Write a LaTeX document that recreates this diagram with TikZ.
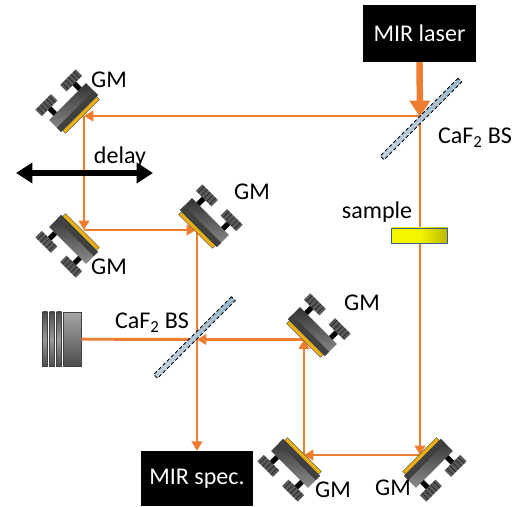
\documentclass[tikz,border=0pt]{standalone}
\usepackage{fontspec}
\setmainfont{Carlito}
\usepackage{xcolor}
\usetikzlibrary{arrows.meta}
\definecolor{beamorange}{HTML}{ED7D31}
\definecolor{mirrorgold}{HTML}{E8B010}
\definecolor{bsblue}{HTML}{9DB8CC}
\definecolor{samplelight}{HTML}{F5F500}
\definecolor{sampledark}{HTML}{B8B800}
\definecolor{sampleedge}{HTML}{3A5F8A}

\begin{document}
\begin{tikzpicture}[
    x=0.03cm, y=0.03cm,
    box/.style={fill=black, text=white, minimum width=3.39cm, minimum height=1.71cm, inner sep=0pt, font=\fontsize{20.5}{23}\selectfont},
    tag/.style={inner sep=0pt, font=\fontsize{20.5}{23}\selectfont},
    splitter/.style={draw=black, densely dashed, line width=0.7pt, minimum width=3.3cm, minimum height=0.16cm, inner sep=0pt, rotate=45, top color=bsblue, bottom color=bsblue!60!white},
    beam/.style={draw=beamorange, line width=2.5pt},
    arrow/.style={beam, -{Triangle[length=8pt,width=9pt]}},
    pump/.style={draw=beamorange, line width=5.5pt, -{Triangle[length=14pt,width=17pt]}},
    travel/.style={draw=black, line width=4.5pt, {Triangle[length=14pt,width=17pt]}-{Triangle[length=14pt,width=17pt]}},
    band/.style={draw=black!75, line width=0.5pt, top color=black!70, bottom color=black!70, middle color=black!40},
    pics/galvo/.style={code={
        \fill[mirrorgold, draw=black!70, line width=0.3pt] (-24,-2) rectangle (24,2);
        \shade[top color=black!80, bottom color=black!45] (-26,-19) rectangle (26,-2);
        \fill[black!75] (-26,-8) rectangle (26,-2);
        \foreach \k in {-17.5,17.5} {
            \fill[black] (\k-2.5,-28) rectangle (\k+2.5,-19);
            \fill[black!65] (\k-11,-36) rectangle (\k+11,-27);
            \foreach \r in {-8,-4,0,4,8}
                \draw[black!85, line width=0.6pt] (\k+\r,-36) -- (\k+\r,-27);
        }
    }}
]
    \useasboundingbox (0,0) rectangle (517,506);

    \node[box] (laser) at (419.5,472.5) {MIR laser};
    \node[box, minimum width=3.36cm, minimum height=1.65cm] (spec) at (197,27.5) {MIR spec.};

    \coordinate (bsa) at (420,390);
    \coordinate (pa) at (84,390);
    \coordinate (pb) at (84,276);
    \coordinate (pc) at (196,276);
    \coordinate (pd) at (197,276);
    \coordinate (bsb) at (197,166.5);
    \coordinate (pe) at (304,166.5);
    \coordinate (pf) at (304,51);
    \coordinate (pg) at (420,51);
    \coordinate (dl) at (16,333);
    \coordinate (dr) at (153,333);

    \shade[band] (42.5,139.5) rectangle (47.5,194);
    \shade[band] (49.5,139.5) rectangle (54.5,194);
    \shade[band] (56.5,139.5) rectangle (61.5,194);
    \node[draw=black!75, line width=0.5pt, top color=black!35, bottom color=black!70, minimum width=0.54cm, minimum height=1.63cm, inner sep=0pt] (det) at (72,166.8) {};

    \draw[pump] (laser.south) -- (420,389);
    \draw[arrow] (bsa) -- (pa);
    \draw[arrow] (pa) -- (pb);
    \draw[arrow] (pb) -- (pc);
    \draw[arrow] (pd) -- (spec.north);
    \draw[beam] (det.east) -- (bsb);
    \draw[arrow] (pe) -- (bsb);
    \draw[arrow] (pf) -- (pe);
    \draw[arrow] (pg) -- (pf);
    \draw[arrow] (bsa) -- (pg);

    \node[draw=sampleedge, line width=0.6pt, left color=samplelight, right color=sampledark, middle color=samplelight, minimum width=1.68cm, minimum height=0.45cm, inner sep=0pt] (sample) at (419.5,270.5) {};
    \node[splitter] (bsup) at (421,387) {};
    \node[splitter] (bslow) at (194.5,168.5) {};
    \draw[travel] (dl) -- (dr);

    \pic[rotate=-135] at (81,391) {galvo};
    \pic[rotate=-45] at (81,274) {galvo};
    \pic[rotate=135] at (197,276) {galvo};
    \pic[rotate=135] at (305,167) {galvo};
    \pic[rotate=-45] at (303,50) {galvo};
    \pic[rotate=45] at (421,50) {galvo};

    \node[tag] (gma) at (109,426) {GM};
    \node[tag] (gmb) at (109,239) {GM};
    \node[tag] (gmc) at (252,314) {GM};
    \node[tag] (gmd) at (362,203) {GM};
    \node[tag] (gme) at (333,16) {GM};
    \node[tag] (gmf) at (393,18) {GM};
    \node[tag] (delay) at (120,349) {delay};
    \node[tag] (sam) at (377,294) {sample};
    \node[tag] (bsatag) at (475,368) {CaF\textsubscript{2} BS};
    \node[tag] (bsbtag) at (152,183) {CaF\textsubscript{2} BS};
\end{tikzpicture}
\end{document}
